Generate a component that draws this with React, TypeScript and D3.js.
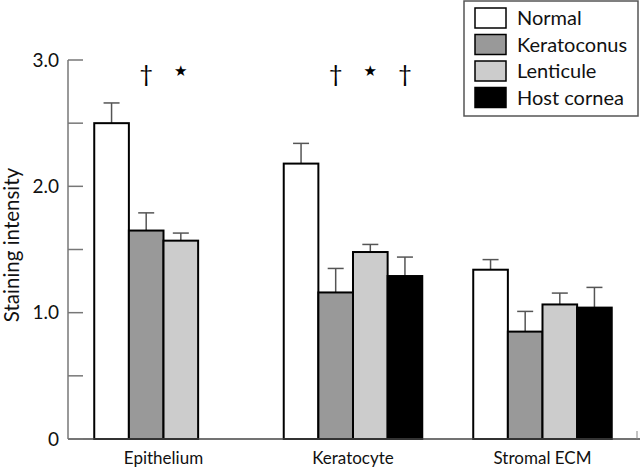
import * as d3 from 'd3';
import React from 'react';

const categories = ['Epithelium', 'Keratocyte', 'Stromal ECM'];
const series = ['Normal', 'Keratoconus', 'Lenticule', 'Host cornea'];
const colors = ['#ffffff', '#999999', '#cccccc', '#000000'];

// mean values per category, in series order (null = not measured)
const means = [
  [2.5, 1.65, 1.57, null],
  [2.18, 1.16, 1.48, 1.29],
  [1.34, 0.85, 1.065, 1.04],
];
// upper error bar ends
const errTops = [
  [2.66, 1.79, 1.63, null],
  [2.34, 1.35, 1.54, 1.44],
  [1.42, 1.01, 1.155, 1.2],
];
// significance marks above bars
const marks = [
  ['', '†', '★', ''],
  ['', '†', '★', '†'],
  ['', '', '', ''],
];
const majorTicks = [0, 1, 2, 3];
const tickLabels = ['0', '1.0', '2.0', '3.0'];
const minorTicks = [0.5, 1.5, 2.5];

const width = 640;
const height = 469;
const font = 'Lato, "Noto Sans", sans-serif';

export default function App() {
  const y = d3.scaleLinear().domain([0, 3]).range([439, 60]);
  const x0 = d3
    .scaleBand()
    .domain(categories)
    .range([68, 638])
    .paddingInner(0.269)
    .paddingOuter(0.1385);
  const x1 = d3.scaleBand().domain(series).range([0, x0.bandwidth()]);

  return (
    <svg
      width={width}
      height={height}
      style={{ position: 'absolute', left: 0, top: 0, background: '#fff' }}
    >
      {/* bars */}
      {categories.map((c, ci) => (
        <g key={c} transform={`translate(${x0(c)},0)`}>
          {series.map((s, si) => {
            const v = means[ci][si];
            if (v == null) return null;
            const bx = x1(s);
            const cx = bx + x1.bandwidth() / 2;
            const et = errTops[ci][si];
            return (
              <g key={s}>
                <line
                  x1={cx}
                  x2={cx}
                  y1={y(v)}
                  y2={y(et)}
                  stroke="#555"
                  strokeWidth={1.5}
                />
                <line
                  x1={cx - 8}
                  x2={cx + 8}
                  y1={y(et)}
                  y2={y(et)}
                  stroke="#555"
                  strokeWidth={1.5}
                />
                <rect
                  x={bx}
                  y={y(v)}
                  width={x1.bandwidth()}
                  height={y(0) - y(v)}
                  fill={colors[si]}
                  stroke="#000"
                  strokeWidth={2}
                />
              </g>
            );
          })}
          {series.map((s, si) =>
            marks[ci][si] ? (
              <text
                key={s}
                x={x1(s) + x1.bandwidth() / 2}
                y={marks[ci][si] === '★' ? 76 : 82}
                textAnchor="middle"
                fontFamily={marks[ci][si] === '★' ? '"DejaVu Sans"' : font}
                fontSize={marks[ci][si] === '★' ? 15 : 24}
                fill="#000"
              >
                {marks[ci][si]}
              </text>
            ) : null
          )}
          <text
            x={x0.bandwidth() / 2}
            y={464}
            textAnchor="middle"
            fontFamily={font}
            fontSize={17}
            fill="#111"
          >
            {c}
          </text>
        </g>
      ))}

      {/* axes */}
      <line x1={68} x2={640} y1={y(0)} y2={y(0)} stroke="#444" strokeWidth={1.5} />
      <line x1={637} x2={637} y1={y(0) - 8} y2={y(0)} stroke="#888" strokeWidth={1} />
      <line x1={68} x2={68} y1={y(0)} y2={y(3)} stroke="#777" strokeWidth={1.5} />
      {majorTicks.map((t, i) => (
        <g key={t}>
          <line x1={68} x2={83} y1={y(t)} y2={y(t)} stroke="#777" strokeWidth={1.5} />
          <text
            x={59}
            y={y(t) + 6.5}
            textAnchor="end"
            fontFamily={font}
            fontSize={19}
            fill="#111"
          >
            {tickLabels[i]}
          </text>
        </g>
      ))}
      {minorTicks.map((t) => (
        <line key={t} x1={68} x2={83} y1={y(t)} y2={y(t)} stroke="#777" strokeWidth={1.5} />
      ))}
      <text
        transform={`translate(19,${245}) rotate(-90)`}
        textAnchor="middle"
        fontFamily={font}
        fontSize={20.5}
        fill="#111"
      >
        Staining intensity
      </text>

      {/* legend */}
      <rect x={464} y={1} width={174} height={115} fill="#fff" stroke="#555" strokeWidth={1.5} />
      {series.map((s, si) => (
        <g key={s} transform={`translate(475,${8 + si * 26.5})`}>
          <rect width={31} height={20} fill={colors[si]} stroke="#000" strokeWidth={1.5} />
          <text x={42} y={17} fontFamily={font} fontSize={20} fill="#111">
            {s}
          </text>
        </g>
      ))}
    </svg>
  );
}
